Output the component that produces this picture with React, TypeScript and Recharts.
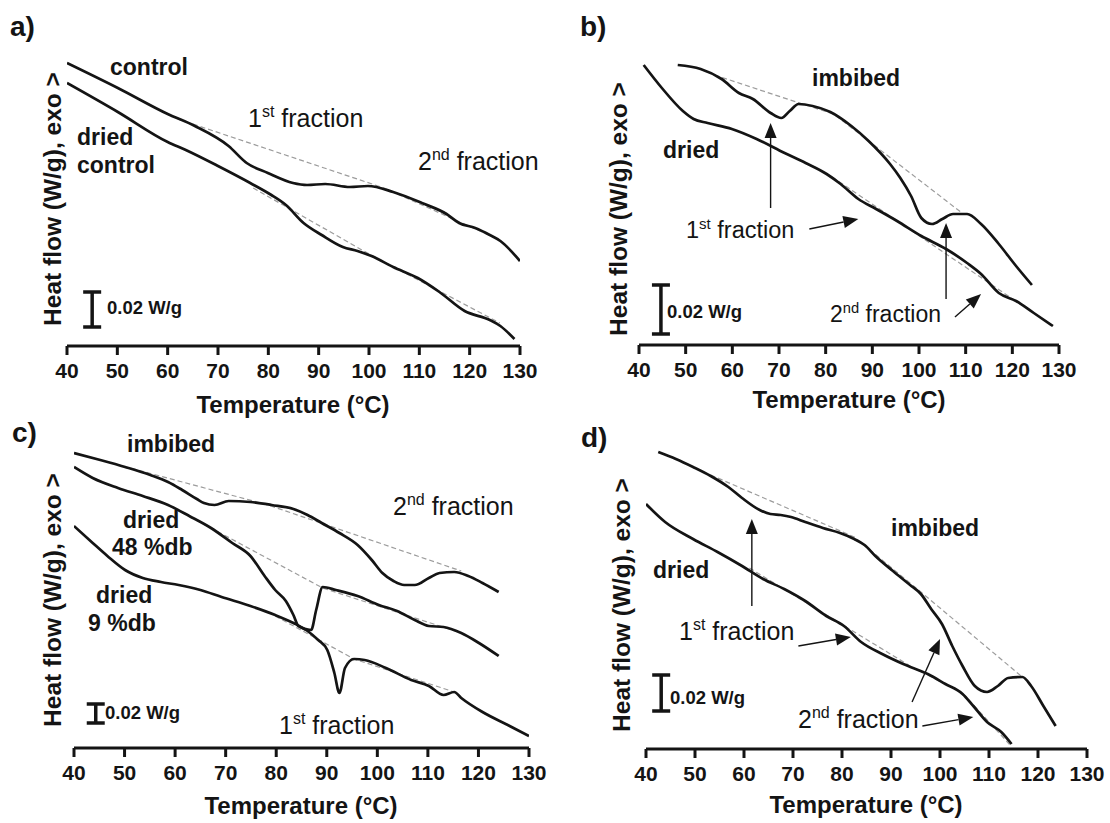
import React from 'react';
import { LineChart, Line, XAxis, YAxis, ReferenceLine } from 'recharts';

const FONT = '"Liberation Sans", Arial, Helvetica, sans-serif';
const INK = '#141414';
const BASE = '#9c9c9c';
const TICKS = [40, 50, 60, 70, 80, 90, 100, 110, 120, 130];

// heat flow is in relative units (height above the axis); each panel has its own 0.02 W/g bar
// a) control / dried control
const A_CONTROL_T = [40, 50.1, 60, 65.4, 72.1, 75.7, 79.9, 84.9, 87.7, 91.3, 96.2, 99.8, 104.8, 110.5, 115.4, 117.9, 121.1, 124, 126.1, 130];
const A_CONTROL_H = [283, 258, 232, 220, 200, 183, 173, 163, 161, 162, 159, 160, 154, 143, 132, 123, 118, 111, 105, 85];
const A_DRIED_T = [40, 50.1, 60, 63.6, 70, 76.4, 80.6, 83.5, 87, 90.6, 94.8, 97.7, 100.5, 104.8, 109.7, 114, 119, 124, 126.1, 128.9];
const A_DRIED_H = [263, 234, 204, 196, 180, 163, 151, 141, 123, 111, 99, 95, 90, 79, 68, 54, 35, 26, 20, 7];
const A_CONTROL_BASE_T = [62, 103, 126];
const A_CONTROL_BASE_H = [227, 158, 106];
const A_DRIED_BASE_T = [77, 100, 126];
const A_DRIED_BASE_H = [158, 92, 23];

// b) imbibed / dried
const B_DRIED_T = [41, 44.9, 49.4, 51.7, 54.7, 59.9, 65.2, 71.2, 75.7, 80.2, 83.2, 87, 90.8, 95.3, 100.5, 105.8, 110.3, 113.3, 117.1, 120.8, 124.6, 128.7];
const B_DRIED_H = [280, 257, 234, 226, 222, 216, 206, 192, 182, 171, 161, 146, 136, 124, 109, 96, 82, 71, 52, 44, 32, 19];
const B_IMB_T = [48.3, 53.2, 57.7, 61.4, 64.4, 68.2, 70.5, 72.3, 74.2, 77.2, 81, 85.5, 89.2, 93.8, 96, 98.3, 100.5, 102.8, 105, 107.3, 110.3, 113.3, 117.1, 120.8, 124.2];
const B_IMB_H = [280, 276, 266, 252, 246, 232, 227, 234, 241, 239, 233, 219, 204, 181, 167, 149, 127, 121, 126, 131, 131, 121, 101, 79, 60];
const B_IMB_BASE_T = [56.2, 75, 81.7, 109.5];
const B_IMB_BASE_H = [270, 241, 231, 131];
const B_DRIED_BASE_T = [81.4, 122.3];
const B_DRIED_BASE_H = [168, 39];

// c) imbibed / dried 48 %db / dried 9 %db
const C_IMB_T = [40, 45.2, 50.1, 55.1, 58.6, 61.4, 64.3, 65.7, 67.8, 70.6, 74.9, 79.1, 83.4, 86.2, 89, 92.5, 96.1, 98.9, 101, 103.2, 105.3, 107.4, 110.2, 112.3, 115.2, 118, 120.8, 124];
const C_IMB_H = [295, 288, 281, 273, 266, 258, 249, 245, 243, 247, 246, 243, 239, 233, 225, 215, 203, 188, 175, 167, 163, 163, 170, 175, 176, 172, 165, 156];
const C_D48_T = [40, 43.7, 48.7, 53.6, 58.6, 62.8, 67.1, 71.3, 74.9, 77.7, 79.8, 81.9, 83.4, 84.4, 86.9, 87.9, 89.2, 91.8, 96.1, 100.3, 103.9, 107.4, 110.2, 113.1, 116.6, 120.1, 124];
const C_D48_H = [281, 270, 260, 252, 243, 232, 220, 205, 192, 172, 158, 147, 133, 122, 118, 138, 161, 158, 152, 143, 137, 128, 122, 121, 115, 105, 92];
const C_D9_T = [40, 43.7, 46.6, 50.1, 53.6, 57.2, 60.7, 65, 69.2, 74.9, 79.8, 83.4, 86.2, 88.3, 90.1, 91.5, 92.5, 93.6, 95.4, 97.5, 101.7, 106.7, 110.2, 113.1, 115.2, 116.6, 120.8, 125.8, 130];
const C_D9_H = [222, 205, 192, 178, 170, 166, 163, 158, 151, 142, 133, 125, 117, 108, 98, 75, 55, 80, 89, 88, 80, 68, 62, 53, 56, 50, 36, 23, 12];
const C_IMB_BASE_T = [45.2, 78.4, 116.6];
const C_IMB_BASE_H = [288, 243, 177];
const C_D48_BASE_T = [58.6, 89.2, 116.6];
const C_D48_BASE_H = [243, 160, 115];
const C_D9_BASE_T = [79.8, 95.4, 115.2];
const C_D9_BASE_H = [132, 89, 56];

// d) imbibed / dried
const D_IMB_T = [42.5, 46.1, 49.6, 53.2, 56.8, 59.6, 63.2, 65.4, 67.5, 69.6, 72.5, 76.1, 79.6, 82.5, 84.6, 86.8, 90.4, 93.9, 96.1, 98.2, 100.4, 102.5, 104.6, 107.1, 109.6, 111.8, 113.9, 116.8, 118.6, 121.1, 123.6];
const D_IMB_H = [297, 290, 282, 273, 262, 251, 239, 235, 234, 232, 227, 221, 216, 210, 204, 193, 178, 164, 155, 140, 125, 103, 83, 63, 57, 63, 71, 72, 63, 43, 23];
const D_DRIED_T = [40, 43.9, 49.6, 54.6, 59.6, 63.9, 68.2, 72.5, 76.8, 80.4, 83.9, 88.2, 92.5, 97.5, 101.1, 104.6, 106.8, 109.6, 112.5, 114.6];
const D_DRIED_H = [245, 227, 210, 197, 183, 170, 160, 148, 133, 123, 107, 95, 85, 75, 65, 55, 43, 27, 17, 5];
const D_IMB_BASE_T = [53.2, 82.5, 96.1, 116.8];
const D_IMB_BASE_H = [274, 212, 157, 72];
const D_DRIED_BASE_T = [61.1, 93.9, 104.6, 114.3];
const D_DRIED_BASE_H = [181, 83, 56, 4];

// scale bars [temperature, bottom, top] and arrows [t tail, h tail, t head, h head]
const A_SCALE = [45, 19, 54];
const B_SCALE = [44.7, 11, 60];
const C_SCALE = [44.3, 25, 44];
const D_SCALE = [43.1, 38, 74];
const B_ARROWS = [
  [68.2, 137, 68.2, 222],
  [76.5, 116, 87, 126],
  [105.8, 46, 105.8, 122],
  [107.7, 28, 113.3, 51],
];
const D_ARROWS = [
  [61.6, 143, 61.6, 230],
  [71.1, 103, 81.8, 112],
  [94.3, 47, 100, 110],
  [96.4, 23, 106.8, 32],
];

const pts = (t: number[], h: number[]) => t.map((v, i) => ({ t: v, h: h[i] }));

const ML = 25, MR = 25, MT = 10, XH = 50, PH = 300;

const ArrowShape = (p: any) => {
  const { x1, y1, x2, y2 } = p;
  const ang = Math.atan2(y2 - y1, x2 - x1);
  const L = 15, W = 6;
  const bx = x2 - L * Math.cos(ang);
  const by = y2 - L * Math.sin(ang);
  const s = Math.sin(ang), c = Math.cos(ang);
  const poly = `${x2},${y2} ${bx - W * s},${by + W * c} ${bx + W * s},${by - W * c}`;
  return (
    <g>
      <line x1={x1} y1={y1} x2={bx} y2={by} stroke={INK} strokeWidth={1.4} />
      <polygon points={poly} fill={INK} />
    </g>
  );
};

const ScaleBar = (p: any) => {
  const { x1, y1, y2 } = p;
  return (
    <g stroke={INK} strokeWidth={3.5}>
      <line x1={x1} y1={y1} x2={x1} y2={y2} />
      <line x1={x1 - 9} y1={y1} x2={x1 + 9} y2={y1} />
      <line x1={x1 - 9} y1={y2} x2={x1 + 9} y2={y2} />
    </g>
  );
};

interface PanelProps {
  x0: number;
  x1: number;
  yb: number;
  curves: [number[], number[]][];
  baselines: [number[], number[]][];
  scale: number[];
  arrows?: number[][];
}

const Panel: React.FC<PanelProps> = ({ x0, x1, yb, curves, baselines, scale, arrows = [] }) => {
  const w = x1 - x0 + ML + MR;
  const h = PH + MT + XH;
  return (
    <div style={{ position: 'absolute', left: x0 - ML, top: yb - PH - MT }}>
      <LineChart width={w} height={h} margin={{ top: MT, right: MR, left: ML, bottom: 0 }}>
        <XAxis
          type="number"
          dataKey="t"
          domain={[40, 130]}
          ticks={TICKS}
          interval={0}
          allowDataOverflow
          height={XH}
          axisLine={{ stroke: INK, strokeWidth: 3 }}
          tickLine={{ stroke: INK, strokeWidth: 3 }}
          tickSize={9}
          tickMargin={8}
          tick={{ fill: INK, fontSize: 21, fontWeight: 700, fontFamily: FONT }}
        />
        <YAxis hide type="number" domain={[0, PH]} allowDataOverflow />
        {baselines.map(([t, hh], i) => (
          <Line key={`b${i}`} data={pts(t, hh)} dataKey="h" type="linear" stroke={BASE} strokeWidth={1.2}
            strokeDasharray="5 3" dot={false} activeDot={false} isAnimationActive={false} />
        ))}
        {curves.map(([t, hh], i) => (
          <Line key={`c${i}`} data={pts(t, hh)} dataKey="h" type="monotone" stroke={INK} strokeWidth={2.7}
            dot={false} activeDot={false} isAnimationActive={false} />
        ))}
        <ReferenceLine segment={[{ x: scale[0], y: scale[1] }, { x: scale[0], y: scale[2] }]} shape={ScaleBar} />
        {arrows.map((a, i) => (
          <ReferenceLine key={`a${i}`} segment={[{ x: a[0], y: a[1] }, { x: a[2], y: a[3] }]} shape={ArrowShape} />
        ))}
      </LineChart>
    </div>
  );
};

const T = (p: { x: number; y: number; b?: boolean; s?: number; children: React.ReactNode }) => (
  <text x={p.x} y={p.y} fontSize={p.s ?? 23} fontWeight={p.b ? 700 : 400} fontFamily={FONT} fill={INK}>
    {p.children}
  </text>
);

const Frac = ({ x, y, n, sup, s = 25 }: { x: number; y: number; n: string; sup: string; s?: number }) => (
  <text x={x} y={y} fontSize={s} fontFamily={FONT} fill={INK}>
    {n}
    <tspan dy={-s * 0.4} fontSize={s * 0.64}>{sup}</tspan>
    <tspan dy={s * 0.4}>{'\u00a0fraction'}</tspan>
  </text>
);

const YLabel = ({ x, y }: { x: number; y: number }) => (
  <text x={x} y={y} transform={`rotate(-90 ${x} ${y})`} textAnchor="middle" dominantBaseline="central"
    fontSize={24.5} fontWeight={700} fontFamily={FONT} fill={INK}>
    Heat flow (W/g), exo &gt;
  </text>
);

const XTitle = ({ x, y }: { x: number; y: number }) => (
  <text x={x} y={y} textAnchor="middle" fontSize={24} fontWeight={700} fontFamily={FONT} fill={INK}>
    Temperature (°C)
  </text>
);

export default function App() {
  return (
    <div style={{ position: 'absolute', left: 0, top: 0, width: 1110, height: 823, background: '#fff', overflow: 'hidden' }}>
      <Panel x0={67} x1={520} yb={346}
        curves={[[A_CONTROL_T, A_CONTROL_H], [A_DRIED_T, A_DRIED_H]]}
        baselines={[[A_CONTROL_BASE_T, A_CONTROL_BASE_H], [A_DRIED_BASE_T, A_DRIED_BASE_H]]}
        scale={A_SCALE} />
      <Panel x0={639} x1={1059} yb={345}
        curves={[[B_IMB_T, B_IMB_H], [B_DRIED_T, B_DRIED_H]]}
        baselines={[[B_IMB_BASE_T, B_IMB_BASE_H], [B_DRIED_BASE_T, B_DRIED_BASE_H]]}
        scale={B_SCALE} arrows={B_ARROWS} />
      <Panel x0={74} x1={529} yb={748}
        curves={[[C_IMB_T, C_IMB_H], [C_D48_T, C_D48_H], [C_D9_T, C_D9_H]]}
        baselines={[[C_IMB_BASE_T, C_IMB_BASE_H], [C_D48_BASE_T, C_D48_BASE_H], [C_D9_BASE_T, C_D9_BASE_H]]}
        scale={C_SCALE} />
      <Panel x0={646} x1={1087} yb={749}
        curves={[[D_IMB_T, D_IMB_H], [D_DRIED_T, D_DRIED_H]]}
        baselines={[[D_IMB_BASE_T, D_IMB_BASE_H], [D_DRIED_BASE_T, D_DRIED_BASE_H]]}
        scale={D_SCALE} arrows={D_ARROWS} />

      <svg width={1110} height={823} style={{ position: 'absolute', left: 0, top: 0, pointerEvents: 'none' }}>
        {/* a */}
        <T x={10} y={36} b s={28}>a)</T>
        <T x={110} y={75} b>control</T>
        <T x={77} y={145} b>dried</T>
        <T x={77} y={173} b>control</T>
        <Frac x={248} y={127} n="1" sup="st" />
        <Frac x={418} y={170} n="2" sup="nd" />
        <T x={107} y={314} b s={18.5}>0.02 W/g</T>
        <YLabel x={52} y={199} />
        <XTitle x={293} y={413} />
        {/* b */}
        <T x={580} y={36} b s={28}>b)</T>
        <T x={812} y={86} b>imbibed</T>
        <T x={663} y={158} b>dried</T>
        <Frac x={686} y={238} n="1" sup="st" s={23.5} />
        <Frac x={830} y={322} n="2" sup="nd" s={23} />
        <T x={667} y={318} b s={18.5}>0.02 W/g</T>
        <YLabel x={618} y={209} />
        <XTitle x={849} y={408} />
        {/* c */}
        <T x={12} y={442} b s={28}>c)</T>
        <T x={127} y={452} b>imbibed</T>
        <T x={123} y={528} b>dried</T>
        <T x={112} y={555} b>48 %db</T>
        <T x={96} y={603} b>dried</T>
        <T x={88} y={631} b>9 %db</T>
        <Frac x={393} y={515} n="2" sup="nd" />
        <Frac x={279} y={734} n="1" sup="st" />
        <T x={105} y={719} b s={18.5}>0.02 W/g</T>
        <YLabel x={52} y={600} />
        <XTitle x={301} y={814} />
        {/* d */}
        <T x={581} y={447} b s={28}>d)</T>
        <T x={891} y={536} b>imbibed</T>
        <T x={653} y={578} b>dried</T>
        <Frac x={679} y={640} n="1" sup="st" />
        <Frac x={798} y={728} n="2" sup="nd" />
        <T x={670} y={704} b s={18.5}>0.02 W/g</T>
        <YLabel x={621} y={605} />
        <XTitle x={866} y={813} />
      </svg>
    </div>
  );
}
